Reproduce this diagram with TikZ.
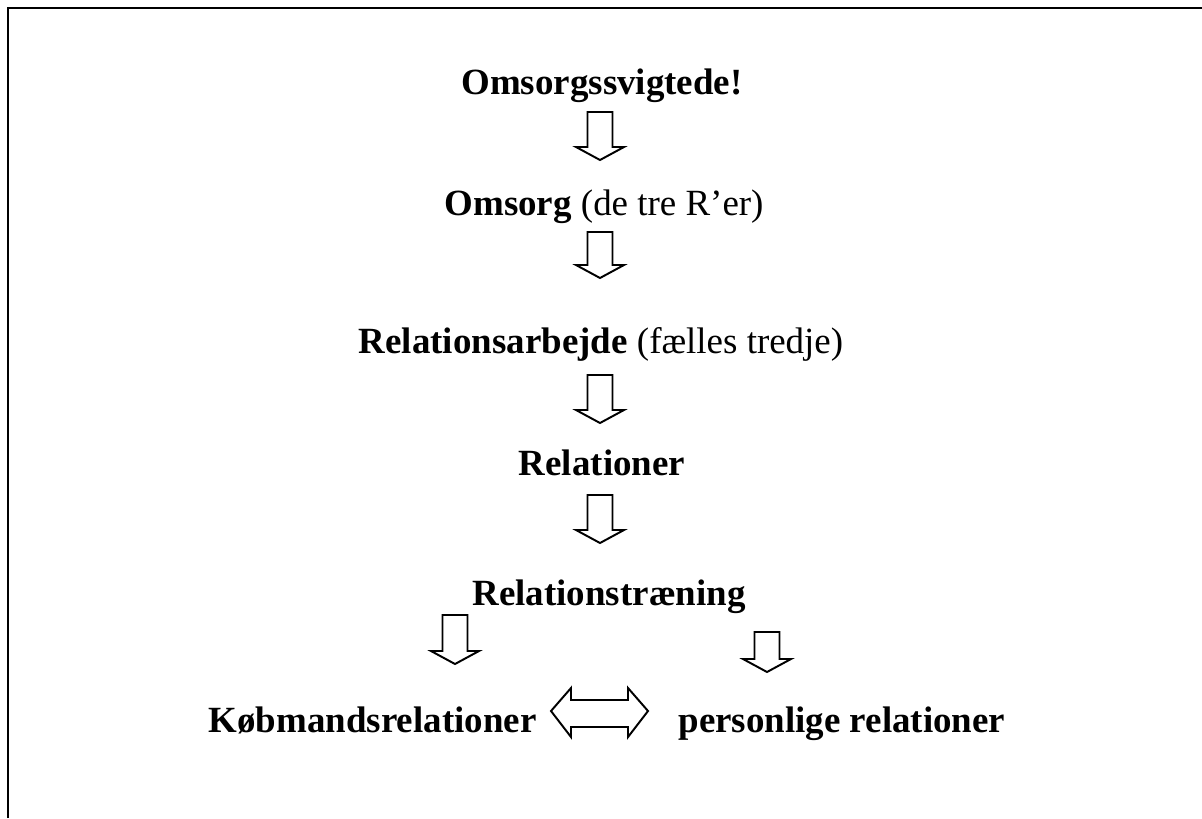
\documentclass[tikz,border=0pt]{standalone}
\usepackage{fontspec}
\setmainfont{Liberation Serif}
\usetikzlibrary{positioning}
\tikzset{
  trin/.style={font=\fontsize{13.3}{16}\selectfont, anchor=base, inner sep=0pt},
  pil/.style={draw=black, line width=0.7pt, fill=white, line join=miter},
}
% hul pil nedad: x, top, spids
\newcommand{\nedpil}[3]{%
  \draw[pil] (#1-12.5,#2) -- (#1+12.5,#2) -- (#1+12.5,#3-13) -- (#1+24,#3-13)
    -- (#1,#3) -- (#1-24,#3-13) -- (#1-12.5,#3-13) -- cycle;}

\begin{document}
\begin{tikzpicture}[x=0.36pt,y=-0.36pt]
    \useasboundingbox (0,0) rectangle (1202,818);
    \draw[line width=0.9pt] (8,818) -- (8,8) -- (1202,8);

    \node[trin] (svigt) at (602,94) {\textbf{Omsorgssvigtede!}};
    \nedpil{600}{112}{160}

    \node[trin] (omsorg) at (604,215) {\textbf{Omsorg} (de tre R’er)};
    \nedpil{600}{232}{278}

    \node[trin] (arbejde) at (601,353) {\textbf{Relationsarbejde} (fælles tredje)};
    \nedpil{600}{375}{423}

    \node[trin] (relationer) at (602,475) {\textbf{Relationer}};
    \nedpil{600}{495}{543}

    \node[trin] (traening) at (609,605) {\textbf{Relationstræning}};
    \nedpil{455}{615}{664}
    \nedpil{767}{632}{672}

    \node[trin,anchor=base east] (koebmand) at (537,732) {\textbf{Købmandsrelationer}};
    \node[trin,anchor=base west] (personlig) at (678,732) {\textbf{personlige relationer}};
    \draw[pil] (551,711) -- (571,688) -- (571,700) -- (628,700) -- (628,688) -- (648,711)
      -- (628,737) -- (628,727) -- (571,727) -- (571,737) -- cycle;
  \end{tikzpicture}
\end{document}
